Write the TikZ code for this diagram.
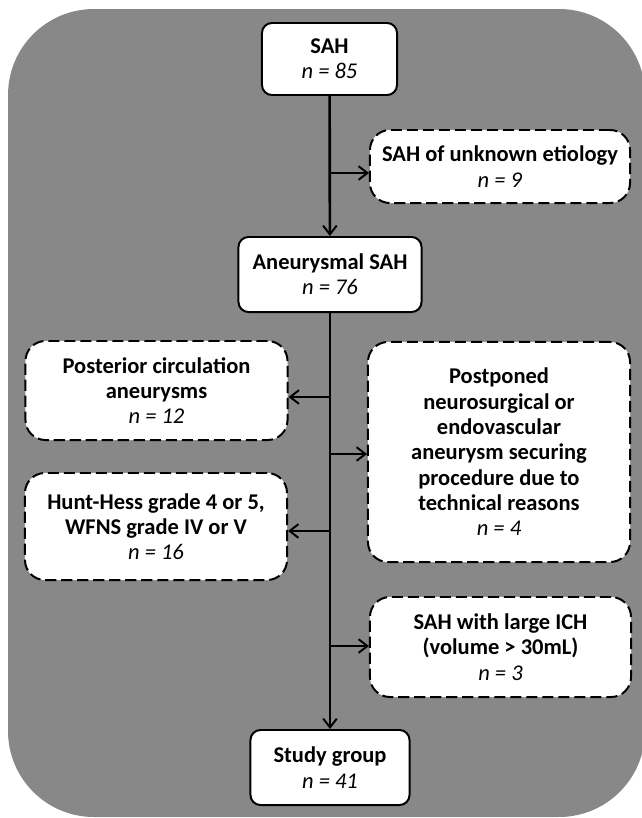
\documentclass[tikz,border=0pt]{standalone}
\usepackage{fontspec}
\setmainfont{Carlito}
\usetikzlibrary{arrows.meta}
\definecolor{bggray}{RGB}{136,136,136}
\tikzset{
    mainbox/.style={draw, line width=1.4pt, fill=white, rounded corners=0.25cm,
        align=center, inner sep=0pt, font=\fontsize{16}{18}\selectfont},
    exclbox/.style={mainbox, dash pattern=on 0.28cm off 0.12cm, rounded corners=0.5cm},
    flow/.style={line width=1.9pt, -{Straight Barb[length=0.22cm,width=0.34cm,line width=1.4pt]}},
}
\begin{document}
\begin{tikzpicture}[x=0.025cm,y=-0.025cm]
        % background
            \useasboundingbox (0,0) rectangle (641,818);
            \fill[bggray, rounded corners=2.15cm] (8,9) rectangle (645,817);
        % main path
            \node[mainbox, minimum width=3.375cm, minimum height=1.8cm] (sah) at (329.5,59)
                {\textbf{SAH}\\\textit{n = 85}};
            \node[mainbox, minimum width=4.575cm, minimum height=1.875cm] (aneur) at (330,274.5)
                {\textbf{Aneurysmal SAH}\\\textit{n = 76}};
            \node[mainbox, minimum width=3.975cm, minimum height=1.875cm] (study) at (330,767.5)
                {\textbf{Study group}\\\textit{n = 41}};
        % exclusions
            \node[exclbox, minimum width=6.5cm, minimum height=1.825cm] (unknown) at (500,166.5)
                {\textbf{SAH of unknown etiology}\\\textit{n = 9}};
            \node[exclbox, minimum width=6.55cm, minimum height=2.475cm] (post) at (156.5,390.5)
                {\textbf{Posterior circulation}\\\textbf{aneurysms}\\\textit{n = 12}};
            \node[exclbox, minimum width=6.55cm, minimum height=5.5cm] (postponed) at (499,452)
                {\textbf{Postponed}\\\textbf{neurosurgical or}\\\textbf{endovascular}\\
                 \textbf{aneurysm securing}\\\textbf{procedure due to}\\\textbf{technical reasons}\\\textit{n = 4}};
            \node[exclbox, minimum width=6.55cm, minimum height=2.675cm] (hunt) at (156,526.5)
                {\textbf{Hunt-Hess grade 4 or 5,}\\\textbf{WFNS grade IV or V}\\\textit{n = 16}};
            \node[exclbox, minimum width=6.525cm, minimum height=2.5cm] (ich) at (500.5,647)
                {\textbf{SAH with large ICH}\\\textbf{(volume > 30mL)}\\\textit{n = 3}};
        % arrows
            \draw[flow] (sah) -- (aneur);
            \draw[flow] (aneur) -- (study);
            \foreach \n/\y/\s in {unknown/173/west,post/397/east,hunt/531/east,ich/646/west}{
                \coordinate (t\n) at (330,\y);
                \draw[flow] (t\n) -- (t\n -| \n.\s);
            }
            \coordinate (tpostponed) at (330,454);
            \draw[flow, line width=0.8pt] (tpostponed) -- (tpostponed -| postponed.west);
        \end{tikzpicture}
\end{document}
